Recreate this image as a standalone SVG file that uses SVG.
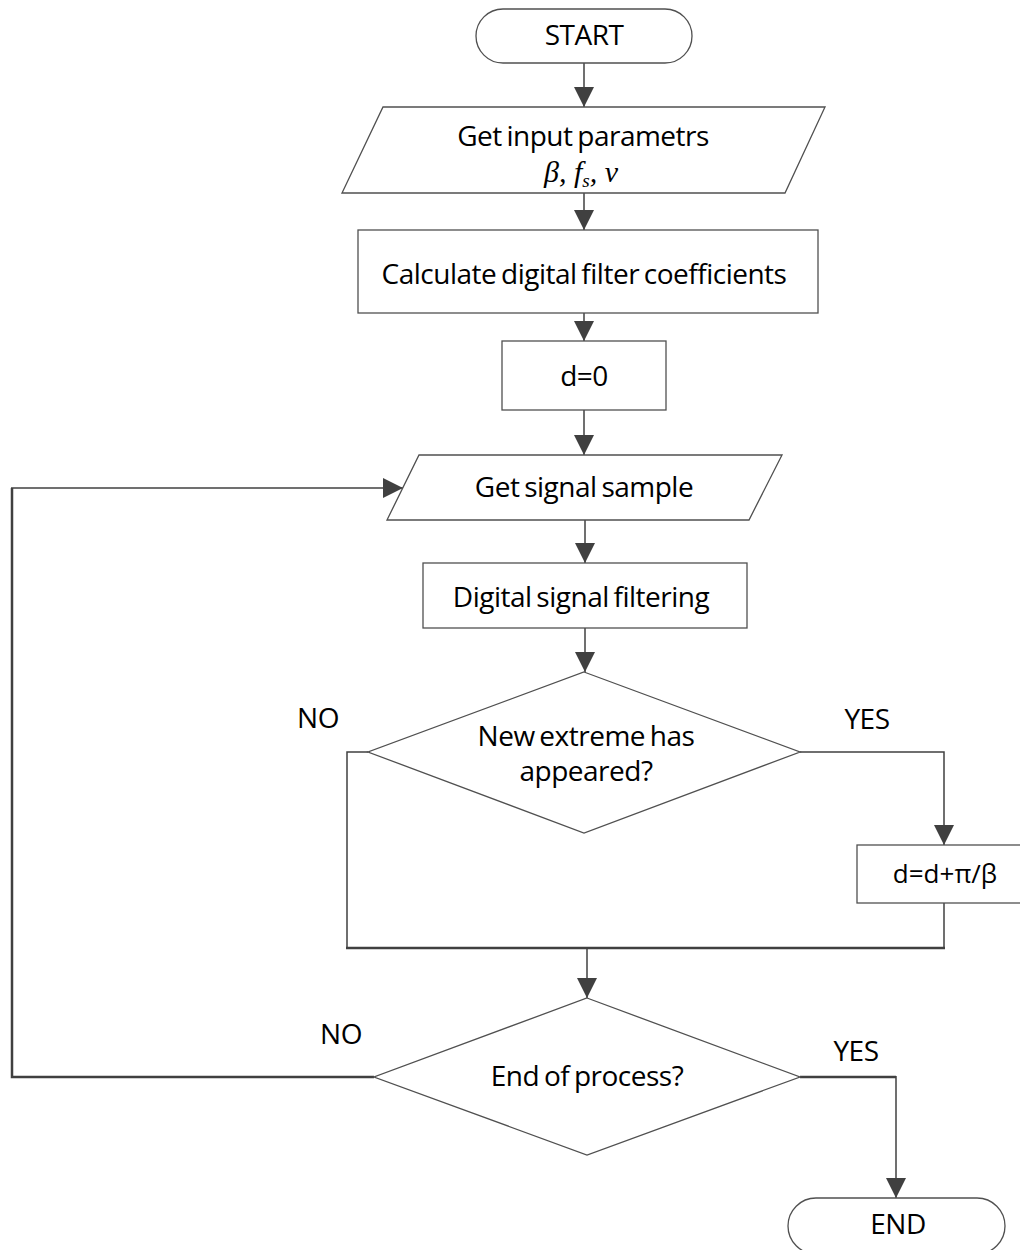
<svg xmlns="http://www.w3.org/2000/svg" width="1020" height="1250" viewBox="0 0 1020 1250">
<defs>
<marker id="ah" markerUnits="userSpaceOnUse" markerWidth="20" markerHeight="20" viewBox="0 0 20 20" refX="20" refY="10" orient="auto">
<path d="M0,0 L20,10 L0,20 Z" fill="#404040"/>
</marker>
<style>
.shape{fill:#fff;stroke:#505050;stroke-width:1.3}
.t{font-family:"Open Sans","Noto Sans",sans-serif;font-size:28px;letter-spacing:-0.5px;word-spacing:-2px;fill:#000;text-anchor:middle}
.u{font-family:"Open Sans","Noto Sans",sans-serif;font-size:26px;fill:#000;text-anchor:middle}
.m{font-family:"Liberation Serif",serif;font-style:italic;font-size:30px;fill:#000;text-anchor:middle}
.c{fill:none;stroke:#404040;stroke-width:1.5}
.ck{fill:none;stroke:#404040;stroke-width:2.5}
</style>
</defs>
<rect width="1020" height="1250" fill="#fff"/>
<g id="connectors">
<line class="c" x1="584" y1="63" x2="584" y2="107" marker-end="url(#ah)"/>
<line class="c" x1="584" y1="193" x2="584" y2="230" marker-end="url(#ah)"/>
<line class="c" x1="584" y1="313" x2="584" y2="341" marker-end="url(#ah)"/>
<line class="c" x1="584" y1="410" x2="584" y2="455" marker-end="url(#ah)"/>
<line class="c" x1="585" y1="520" x2="585" y2="563" marker-end="url(#ah)"/>
<line class="c" x1="585" y1="628" x2="585" y2="672" marker-end="url(#ah)"/>
<polyline class="c" points="800,752 944,752 944,845" marker-end="url(#ah)"/>
<polyline class="c" points="368,752 347,752 347,948"/>
<line class="c" x1="944" y1="903" x2="944" y2="948"/>
<line class="ck" x1="346" y1="948" x2="945" y2="948"/>
<line class="c" x1="587" y1="948" x2="587" y2="998" stroke-width="2" marker-end="url(#ah)"/>
<polyline class="ck" points="374,1077 12,1077 12,488"/>
<line class="c" x1="11" y1="488" x2="403" y2="488" marker-end="url(#ah)"/>
<polyline class="ck" points="800,1077 896,1077"/>
<line class="c" x1="896" y1="1076" x2="896" y2="1198" marker-end="url(#ah)"/>
</g>
<g id="start">
<rect class="shape" x="476" y="9" width="216" height="54" rx="27"/>
<text class="t" x="584" y="45">START</text>
</g>
<g id="input">
<polygon class="shape" points="383,107 825,107 785,193 342,193"/>
<text class="t" x="583" y="146">Get input parametrs</text>
<text class="m" x="581" y="182">β, f<tspan font-size="19" dy="5">s</tspan><tspan dy="-5">, ν</tspan></text>
</g>
<g id="calc">
<rect class="shape" x="358" y="230" width="460" height="83"/>
<text class="t" x="584" y="284">Calculate digital filter coefficients</text>
</g>
<g id="d0">
<rect class="shape" x="502" y="341" width="164" height="69"/>
<text class="t" x="584" y="386">d=0</text>
</g>
<g id="sample">
<polygon class="shape" points="419,455 782,455 749,520 387,520"/>
<text class="t" x="584" y="497">Get signal sample</text>
</g>
<g id="filter">
<rect class="shape" x="423" y="563" width="324" height="65"/>
<text class="t" x="581" y="607">Digital signal filtering</text>
</g>
<g id="extreme">
<polygon class="shape" points="584,672 800,752 584,833 368,752"/>
<text class="t" x="586" y="746">New extreme has</text>
<text class="t" x="586" y="781">appeared?</text>
</g>
<g id="labels">
<text class="t" x="318" y="728">NO</text>
<text class="t" x="867" y="729">YES</text>
<text class="t" x="341" y="1044">NO</text>
<text class="t" x="856" y="1061">YES</text>
</g>
<g id="update">
<rect class="shape" x="857" y="845" width="175" height="58"/>
<text class="u" x="945" y="883">d=d+π/β</text>
</g>
<g id="endproc">
<polygon class="shape" points="587,998 800,1077 587,1155 374,1077"/>
<text class="t" x="587" y="1086">End of process?</text>
</g>
<g id="end">
<rect class="shape" x="788" y="1198" width="217" height="56" rx="28"/>
<text class="t" x="898" y="1234">END</text>
</g>
</svg>
